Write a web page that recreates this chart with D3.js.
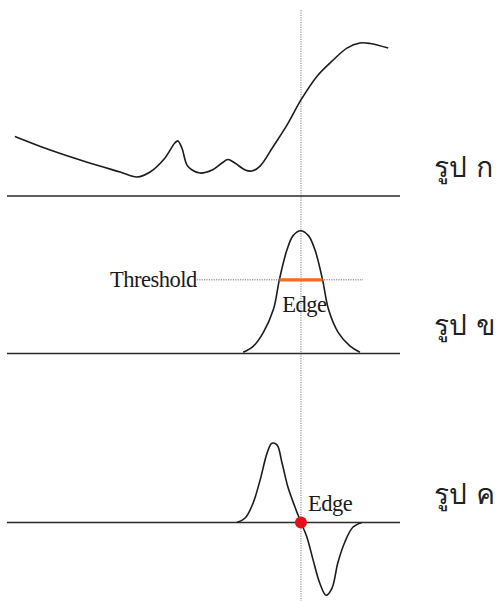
<!DOCTYPE html>
<html>
<head>
<meta charset="utf-8">
<script src="https://cdn.jsdelivr.net/npm/d3@7"></script>
<style>
  html, body { margin: 0; padding: 0; background: #fff; }
  svg { display: block; }
</style>
</head>
<body>
<svg id="chart" width="499" height="601"></svg>
<script>
// ---- Data (position in sample units 0..100, edge at ~74.8) ----
const edgePos = 74.8;

// Panel ก : original intensity profile
const profileX = [2, 11, 21, 28.8, 33.1, 36.4, 40.2, 42.7, 43.5, 44.5, 45.8, 47.1, 49.1, 52.2, 54.7, 56.2, 58, 60.6, 62.3, 64.4, 67.7, 71.2, 74.8, 78.9, 83, 86.5, 89.8, 92.4, 97];
const profileY = [35, 27, 19.4, 14.1, 11.2, 14.1, 22.4, 31.2, 32.4, 28.2, 18.2, 15.3, 13.5, 15.3, 19.4, 21.5, 19.4, 15.3, 14.7, 17.6, 29, 41.5, 56.5, 70.5, 80, 87, 90, 89.7, 87];

// Panel ข : first derivative (magnitude) with threshold
const derivX = [60.1, 62.7, 65.2, 67.8, 69.3, 71.2, 72.8, 74.7, 76.7, 78.4, 80.3, 81.8, 84.3, 87.3, 89.8];
const derivY = [1, 6, 17, 36, 60, 84, 96, 100, 96, 84, 60, 36, 17, 6, 1];
const thresholdValue = 60;
const thresholdRange = [48.3, 90.6];
const edgeSegment = [69.3, 80.3];

// Panel ค : second derivative (zero crossing)
const secondX = [58.5, 60.6, 62.6, 64.4, 66.2, 67.4, 68.7, 70, 71.5, 73.3, 74.8, 76.3, 77.9, 79.6, 81.2, 82.7, 84.2, 86, 88, 90.3];
const secondY = [0, 5.6, 24, 53, 87, 99, 97, 74, 44, 19, 0, -18, -47, -76, -91, -82, -50, -24, -6, 0];

const panelLabels = ["รูป ก", "รูป ข", "รูป ค"];
const thresholdLabel = "Threshold";
const edgeLabel = "Edge";

// ---- Drawing ----
const svg = d3.select("#chart");
const x = d3.scaleLinear().domain([0, 100]).range([7, 400]);

const y1 = d3.scaleLinear().domain([0, 100]).range([196, 26]);
const y2 = d3.scaleLinear().domain([0, 100]).range([353.5, 230.7]);
const y3 = d3.scaleLinear().domain([-100, 100]).range([602.5, 442.5]);

const ink = "#1c1c1c";
const serif = "'Liberation Serif', 'Times New Roman', serif";

function zipPts(xs, ys) { return xs.map((v, i) => [v, ys[i]]); }

function drawCurve(xs, ys, yScale) {
  const line = d3.line().x(d => x(d[0])).y(d => yScale(d[1])).curve(d3.curveCatmullRom.alpha(0.5));
  svg.append("path").datum(zipPts(xs, ys))
    .attr("d", line).attr("fill", "none")
    .attr("stroke", ink).attr("stroke-width", 1.6)
    .attr("stroke-linejoin", "round");
}

function drawBaseline(yScale) {
  svg.append("line")
    .attr("x1", x(0)).attr("x2", x(100))
    .attr("y1", yScale(0)).attr("y2", yScale(0))
    .attr("stroke", "#2a2a2a").attr("stroke-width", 1.6);
}

// vertical dotted edge line
svg.append("line")
  .attr("x1", x(edgePos)).attr("x2", x(edgePos))
  .attr("y1", 10).attr("y2", 601)
  .attr("stroke", "#7f7f7f").attr("stroke-width", 1)
  .attr("stroke-dasharray", "1.2,1.2");

// Panel 1
drawBaseline(y1);
drawCurve(profileX, profileY, y1);

// Panel 2
drawBaseline(y2);
svg.append("line")
  .attr("x1", x(thresholdRange[0])).attr("x2", x(thresholdRange[1]))
  .attr("y1", y2(thresholdValue)).attr("y2", y2(thresholdValue))
  .attr("stroke", "#6f6f6f").attr("stroke-width", 1)
  .attr("stroke-dasharray", "1.2,1.2");
drawCurve(derivX, derivY, y2);
svg.append("line")
  .attr("x1", x(edgeSegment[0])).attr("x2", x(edgeSegment[1]))
  .attr("y1", y2(thresholdValue)).attr("y2", y2(thresholdValue))
  .attr("stroke", "#f26a1b").attr("stroke-width", 3.2);
svg.append("text")
  .attr("x", x(thresholdRange[0])).attr("y", y2(thresholdValue) + 7)
  .attr("text-anchor", "end")
  .attr("font-family", serif)
  .attr("font-size", 22.5).attr("fill", "#1a1a1a")
  .attr("letter-spacing", -0.5)
  .text(thresholdLabel);
svg.append("text")
  .attr("x", x(edgeSegment[0]) + 3).attr("y", y2(thresholdValue) + 32)
  .attr("font-family", serif)
  .attr("font-size", 22.5).attr("fill", "#1a1a1a")
  .attr("letter-spacing", -0.5)
  .text(edgeLabel);

// Panel 3
drawBaseline(y3);
drawCurve(secondX, secondY, y3);
svg.append("circle")
  .attr("cx", x(edgePos)).attr("cy", y3(0)).attr("r", 6)
  .attr("fill", "#e3101b");
svg.append("text")
  .attr("x", x(edgePos) + 7).attr("y", y3(0) - 12)
  .attr("font-family", serif)
  .attr("font-size", 22.5).attr("fill", "#1a1a1a")
  .attr("letter-spacing", -0.5)
  .text(edgeLabel);

// Thai panel labels
const baseYs = [y1(0), y2(0), y3(0)];
svg.selectAll("text.plabel").data(panelLabels).enter().append("text")
  .attr("class", "plabel")
  .attr("x", 434)
  .attr("y", (d, i) => baseYs[i] - 19)
  .attr("font-family", "Tahoma, Loma, Garuda, 'Noto Sans Thai Looped', 'Noto Sans Thai', 'Noto Sans', sans-serif")
  .attr("font-size", 28).attr("fill", "#222")
  .text(d => d);
</script>
</body>
</html>
